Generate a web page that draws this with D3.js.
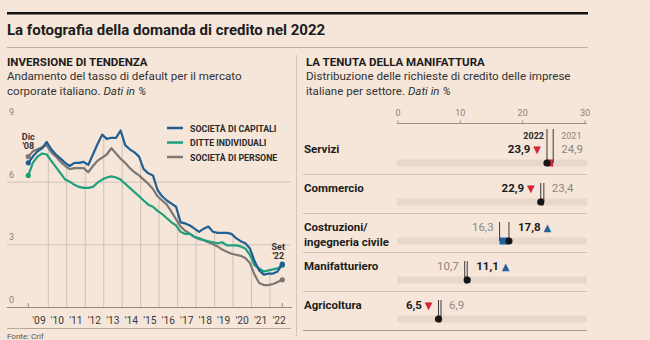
<!DOCTYPE html>
<html>
<head>
<meta charset="utf-8">
<script src="https://cdn.jsdelivr.net/npm/d3@7"></script>
<style>
	html, body { margin: 0; padding: 0; background: #f6e6d9; }
	svg { display: block; font-family: Roboto, "Open Sans", sans-serif; }
</style>
</head>
<body>
<div id="chart"></div>
<script>
// Dati: tasso di default (trimestrale)
var dates = [
	"2008-12", "2009-03", "2009-06", "2009-09", "2009-12", "2010-03", "2010-06", "2010-09",
	"2010-12", "2011-03", "2011-06", "2011-09", "2011-12", "2012-03", "2012-06", "2012-09",
	"2012-12", "2013-03", "2013-06", "2013-09", "2013-12", "2014-03", "2014-06", "2014-09",
	"2014-12", "2015-03", "2015-06", "2015-09", "2015-12", "2016-03", "2016-06", "2016-09",
	"2016-12", "2017-03", "2017-06", "2017-09", "2017-12", "2018-03", "2018-06", "2018-09",
	"2018-12", "2019-03", "2019-06", "2019-09", "2019-12", "2020-03", "2020-06", "2020-09",
	"2020-12", "2021-03", "2021-06", "2021-09", "2021-12", "2022-03", "2022-06", "2022-09"
];
var capitali = [
	6.9, 7.2, 7.45, 7.6, 7.9, 7.55, 7.3, 7.1,
	6.9, 6.75, 6.9, 6.9, 6.95, 6.8, 7.3, 7.8,
	8.25, 8.05, 8.1, 8.1, 8.45, 7.75, 7.55, 7.4,
	7.2, 6.6, 6.4, 6.3, 5.6, 5.3, 5.1, 4.95,
	4.8, 4.05, 4.0, 3.9, 3.75, 3.6, 3.75, 3.85,
	3.6, 3.55, 3.55, 3.55, 3.5, 3.3, 3.15, 3.05,
	2.8, 2.2, 1.75, 1.55, 1.6, 1.6, 1.7, 2.05
];
var ditte = [
	6.3, 6.9, 7.2, 7.35, 7.3, 7.0, 6.7, 6.4,
	6.1, 6.0, 5.85, 5.75, 5.7, 5.7, 5.75, 5.95,
	6.1, 6.2, 6.25, 6.2, 6.1, 5.9, 5.7, 5.5,
	5.3, 5.1, 4.9, 4.8, 4.6, 4.45, 4.25, 4.05,
	3.9, 3.6, 3.5, 3.5, 3.35, 3.3, 3.2, 3.15,
	3.1, 3.05, 3.1, 2.95, 2.95, 2.95, 2.9, 2.8,
	2.5, 2.0, 1.85, 1.7, 1.75, 1.8, 1.85, 2.0
];
var persone = [
	7.2, 7.45, 7.55, 7.65, 7.75, 7.4, 7.2, 6.95,
	6.75, 6.6, 6.65, 6.65, 6.65, 6.45, 6.75, 7.0,
	7.15, 7.3, 7.6, 7.35, 7.1, 6.9, 6.65, 6.45,
	6.3, 6.1, 5.9, 5.65, 5.3, 5.1, 4.9, 4.55,
	4.2, 3.85, 3.65, 3.5, 3.35, 3.25, 3.2, 3.1,
	3.0, 2.9, 2.75, 2.65, 2.55, 2.5, 2.45, 2.35,
	2.1, 1.55, 1.15, 1.05, 1.05, 1.1, 1.2, 1.3
];
var seriesNames = ["SOCIETÀ DI CAPITALI", "DITTE INDIVIDUALI", "SOCIETÀ DI PERSONE"];
var seriesColors = ["#1f5f94", "#1f9f7c", "#7c7773"];
var yTicks = [0, 3, 6, 9];
var yearLabels = ["'09", "'10", "'11", "'12", "'13", "'14", "'15", "'16", "'17", "'18", "'19", "'20", "'21", "'22"];

// Dati: richieste di credito per settore
var sectors = ["Servizi", "Commercio", "Costruzioni/|ingegneria civile", "Manifatturiero", "Agricoltura"];
var val2022 = [23.9, 22.9, 17.8, 11.1, 6.5];
var val2021 = [24.9, 23.4, 16.3, 10.7, 6.9];
var barTicks = [0, 10, 20, 30];

(function () {
	'use strict';
	var W = 650, H = 340;
	var fmt = function(v) { return String(v).replace(".", ","); };
	var parse = d3.timeParse("%Y-%m");

	var svg = d3.select("#chart").append("svg")
		.attr("width", W)
		.attr("height", H);

	//Intestazione
	svg.append("rect").attr("x", 7).attr("y", 12).attr("width", 581).attr("height", 2.5).attr("fill", "#111");
	svg.append("text").attr("x", 7).attr("y", 35)
		.attr("font-size", 15).attr("font-weight", 700).attr("fill", "#1c1c1c")
		.text("La fotografia della domanda di credito nel 2022");
	svg.append("line").attr("x1", 7).attr("x2", 588).attr("y1", 47.5).attr("y2", 47.5)
		.attr("stroke", "#bfb2a6");
	svg.append("line").attr("x1", 296.5).attr("x2", 296.5).attr("y1", 55).attr("y2", 336)
		.attr("stroke", "#d2c5b9");

	function heading(x, title, line1, line2) {
		svg.append("text").attr("x", x).attr("y", 66)
			.attr("font-size", 11.5).attr("font-weight", 700).attr("fill", "#1c1c1c")
			.text(title);
		svg.append("text").attr("x", x).attr("y", 80)
			.attr("font-size", 11.6).attr("fill", "#333")
			.text(line1);
		var t = svg.append("text").attr("x", x).attr("y", 95)
			.attr("font-size", 11.6).attr("fill", "#333");
		t.append("tspan").text(line2);
		t.append("tspan").attr("font-style", "italic").text("Dati in %");
	}
	heading(7, "INVERSIONE DI TENDENZA", "Andamento del tasso di default per il mercato", "corporate italiano. ");
	heading(306, "LA TENUTA DELLA MANIFATTURA", "Distribuzione delle richieste di credito delle imprese", "italiane per settore. ");

	//Grafico a linee
	var parsed = dates.map(parse);
	var x = d3.scaleTime()
		.domain([new Date(2010, 0, 1), new Date(2022, 0, 1)])
		.range([48.3, 270]);
	var y = d3.scaleLinear()
		.domain([0, 9])
		.range([307, 119]);
	var all = [capitali, ditte, persone];

	var left = svg.append("g");
	//Griglia orizzontale
	left.selectAll(".grid-y")
		.data(yTicks.filter(function(d) { return d > 0 && d < 9; }))
		.enter().append("line")
		.attr("x1", 7).attr("x2", 291)
		.attr("y1", function(d) { return y(d) + 0.5; })
		.attr("y2", function(d) { return y(d) + 0.5; })
		.attr("stroke", "#cfc3b8");
	left.selectAll(".lab-y")
		.data(yTicks)
		.enter().append("text")
		.attr("x", 9)
		.attr("y", function(d) { return y(d) - 4; })
		.attr("font-size", 9).attr("fill", "#8a817a")
		.text(function(d) { return d; });

	//Linee verticali fino alla curva più alta
	var years = d3.range(2010, 2023).map(function(yr) { return new Date(yr, 0, 1); });
	var bis = d3.bisector(function(d) { return d; }).left;
	function topAt(dt) {
		var i = bis(parsed, dt);
		var i0 = Math.max(0, i - 1);
		var t = (dt - parsed[i0]) / ((parsed[i] - parsed[i0]) || 1);
		return d3.max(all, function(s) { return s[i0] + (s[i] - s[i0]) * t; });
	}
	left.selectAll(".drop")
		.data(years)
		.enter().append("line")
		.attr("x1", function(d) { return x(d); })
		.attr("x2", function(d) { return x(d); })
		.attr("y1", y(0))
		.attr("y2", function(d) { return y(topAt(d)); })
		.attr("stroke", "#cdc1b6");

	//Asse X
	left.append("line").attr("x1", 7).attr("x2", 292).attr("y1", y(0) + 0.5).attr("y2", y(0) + 0.5)
		.attr("stroke", "#8f867e");
	[parsed[0], parsed[parsed.length - 1]].forEach(function(d) {
		left.append("line").attr("x1", x(d)).attr("x2", x(d)).attr("y1", y(0)).attr("y2", y(0) - 4)
			.attr("stroke", "#8f867e");
	});
	left.selectAll(".lab-x")
		.data(yearLabels)
		.enter().append("text")
		.attr("x", function(d, i) { return x(new Date(2009 + i, 6, 1)); })
		.attr("y", 324)
		.attr("text-anchor", "middle")
		.attr("font-size", 10.3).attr("fill", "#3a3a3a")
		.text(function(d) { return d; });
	left.append("line").attr("x1", 7).attr("x2", 291).attr("y1", 328.5).attr("y2", 328.5)
		.attr("stroke", "#b5a99e");
	left.append("text").attr("x", 7).attr("y", 338.5)
		.attr("font-size", 8).attr("fill", "#555").text("Fonte: Crif");

	//Serie
	var line = d3.line()
		.x(function(d, i) { return x(parsed[i]); })
		.y(function(d) { return y(d); });
	[persone, ditte, capitali].forEach(function(s) {
		var k = all.indexOf(s);
		left.append("path")
			.datum(s)
			.attr("d", line)
			.attr("fill", "none")
			.attr("stroke", seriesColors[k])
			.attr("stroke-width", 2.2)
			.attr("stroke-linejoin", "round");
		[0, s.length - 1].forEach(function(i) {
			left.append("circle")
				.attr("cx", x(parsed[i])).attr("cy", y(s[i]))
				.attr("r", 2.6).attr("fill", seriesColors[k]);
		});
	});

	//Annotazioni
	function note(xp, yp, a, b) {
		var t = left.append("text").attr("x", xp).attr("y", yp)
			.attr("font-size", 9).attr("font-weight", 700).attr("fill", "#333").attr("text-anchor", "middle");
		t.append("tspan").attr("x", xp).text(a);
		t.append("tspan").attr("x", xp).attr("dy", 9).text(b);
	}
	note(x(parsed[0]), 140, "Dic", "'08");
	note(x(parsed[parsed.length - 1]) - 4, 250, "Set", "'22");

	//Legenda
	var legend = left.append("g");
	seriesNames.forEach(function(n, i) {
		var ly = 128 + i * 14.5;
		legend.append("line").attr("x1", 167).attr("x2", 183).attr("y1", ly).attr("y2", ly)
			.attr("stroke", seriesColors[i]).attr("stroke-width", 2.5);
		legend.append("text").attr("x", 190).attr("y", ly + 3.5)
			.attr("font-size", 8.8).attr("font-weight", 700).attr("fill", "#2a2a2a")
			.text(n);
	});

	//Grafico a barre
	var bx = d3.scaleLinear()
		.domain([0, 30])
		.range([398, 585]);
	var right = svg.append("g");
	right.append("line").attr("x1", bx(0) - 1).attr("x2", bx(30) + 2).attr("y1", 123.5).attr("y2", 123.5)
		.attr("stroke", "#9b9189");
	right.selectAll(".tick-b")
		.data(barTicks)
		.enter().append("line")
		.attr("x1", function(d) { return bx(d); })
		.attr("x2", function(d) { return bx(d); })
		.attr("y1", 123.5).attr("y2", 120.5)
		.attr("stroke", "#9b9189");
	right.selectAll(".lab-b")
		.data(barTicks)
		.enter().append("text")
		.attr("x", function(d) { return bx(d); })
		.attr("y", 116)
		.attr("text-anchor", "middle")
		.attr("font-size", 9).attr("fill", "#8a817a")
		.text(function(d) { return d; });

	sectors.forEach(function(name, i) {
		var sep = 174 + i * 39;
		var ty = sep - 11;
		var cy = sep - 25;
		var a = val2022[i], b = val2021[i];
		var down = a < b;
		var g = right.append("g");
		//Etichetta settore
		var lines = name.split("|");
		lines.forEach(function(l, j) {
			g.append("text").attr("x", 304).attr("y", cy + 4 + j * 15)
				.attr("font-size", 11.5).attr("font-weight", 700).attr("fill", "#1c1c1c")
				.text(l);
		});
		//Binario
		g.append("rect").attr("x", bx(0) - 1).attr("y", ty - 3.5)
			.attr("width", bx(30) - bx(0) + 3).attr("height", 7)
			.attr("fill", "#e7d8cb");
		//Variazione
		g.append("rect")
			.attr("x", bx(Math.min(a, b))).attr("y", ty - 3.5)
			.attr("width", Math.abs(bx(a) - bx(b))).attr("height", 7)
			.attr("fill", down ? "#d0263a" : "#1f63a3");
		//Linee verticali
		var top = i === 0 ? 129 : sep - 30;
		[a, b].forEach(function(v) {
			g.append("line").attr("x1", bx(v)).attr("x2", bx(v)).attr("y1", top).attr("y2", ty)
				.attr("stroke", "#3a3a3a").attr("stroke-width", 1);
		});
		g.append("circle").attr("cx", bx(a)).attr("cy", ty).attr("r", 3.6).attr("fill", "#161616");
		//Valori
		var lo = Math.min(bx(a), bx(b)), hi = Math.max(bx(a), bx(b));
		var tri = down ? "▼" : "▲";
		var triCol = down ? "#d0263a" : "#1f63a3";
		var t22 = g.append("text").attr("y", cy + 4)
			.attr("font-size", 11.5).attr("font-weight", 700).attr("fill", "#1c1c1c");
		t22.append("tspan").text(fmt(a) + " ");
		t22.append("tspan").attr("fill", triCol).attr("font-size", 10).attr("font-family", "DejaVu Sans").text(tri);
		var t21 = g.append("text").attr("y", cy + 4)
			.attr("font-size", 11.5).attr("fill", "#8d8680")
			.text(fmt(b));
		if (down) {
			t22.attr("x", lo - 6).attr("text-anchor", "end");
			t21.attr("x", hi + 8).attr("text-anchor", "start");
		} else {
			t21.attr("x", lo - 6).attr("text-anchor", "end");
			t22.attr("x", hi + 9).attr("text-anchor", "start");
		}
		if (i === 0) {
			g.append("text").attr("x", lo - 3).attr("y", 139).attr("text-anchor", "end")
				.attr("font-size", 9).attr("font-weight", 700).attr("fill", "#2a2a2a").text("2022");
			g.append("text").attr("x", hi + 8).attr("y", 139)
				.attr("font-size", 9).attr("fill", "#8d8680").text("2021");
		}
		//Separatore
		g.append("line").attr("x1", 303).attr("x2", 587).attr("y1", sep + 0.5).attr("y2", sep + 0.5)
			.attr("stroke", i === sectors.length - 1 ? "#a89c91" : "#cdc0b4");
	});
}());
</script>
</body>
</html>
